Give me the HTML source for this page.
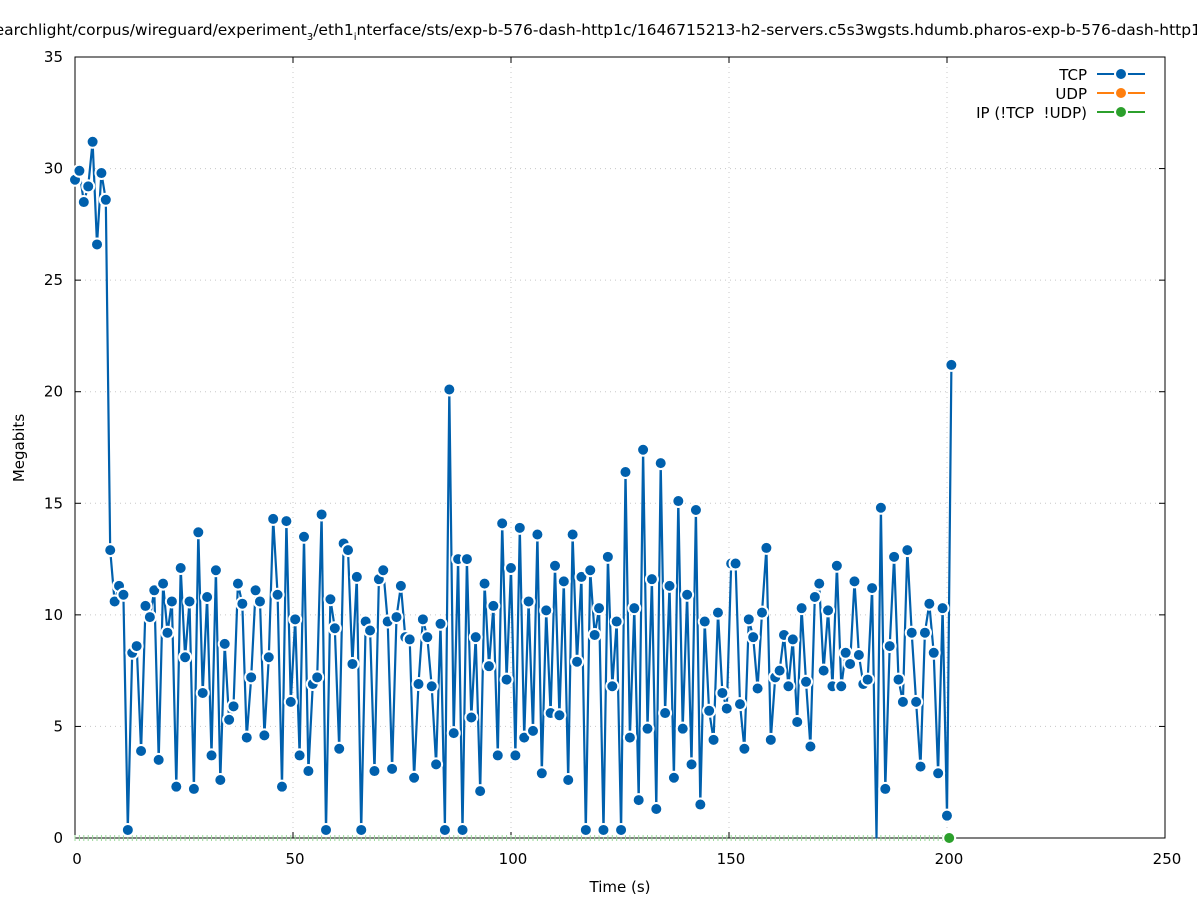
<!DOCTYPE html>
<html><head><meta charset="utf-8">
<style>
html,body{margin:0;padding:0;background:#fff;}
svg{display:block;font-family:"DejaVu Sans","Liberation Sans",sans-serif;}
</style></head>
<body>
<svg id="s" width="1197" height="900" xmlns="http://www.w3.org/2000/svg">
<defs><clipPath id="cp"><rect x="60" y="50" width="1110" height="788.5"/></clipPath></defs>
<rect width="1197" height="900" fill="#fff"/>
<g id="grid" stroke="#c8c8c8" stroke-width="1" stroke-dasharray="1,4"></g>
<g id="axes"></g>
<g id="udp"></g>
<g clip-path="url(#cp)">
<path id="line" fill="none" stroke="#0060ad" stroke-width="2.2" stroke-linejoin="round"/>
<g id="marks"></g>
</g>
<g id="top"></g>
<text x="598" y="35" font-size="15.5" text-anchor="middle">searchlight/corpus/wireguard/experiment<tspan font-size="10" dy="5">3</tspan><tspan dy="-5">/eth1</tspan><tspan font-size="10" dy="5">i</tspan><tspan dy="-5">nterface/sts/exp-b-576-dash-http1c/1646715213-h2-servers.c5s3wgsts.hdumb.pharos-exp-b-576-dash-http1c</tspan></text>
<text x="620" y="892" font-size="15" text-anchor="middle">Time (s)</text>
<text transform="translate(24,448) rotate(-90)" font-size="15" text-anchor="middle">Megabits</text>
<g font-size="15" text-anchor="end" xml:space="preserve">
<text x="1087" y="80">TCP</text>
<text x="1087" y="99">UDP</text>
<text x="1087" y="118" xml:space="preserve">IP (!TCP  !UDP)</text>
</g>
<g stroke-width="2">
<line x1="1097" y1="74" x2="1145" y2="74" stroke="#0060ad"/>
<line x1="1097" y1="93" x2="1145" y2="93" stroke="#ff7f0e"/>
<line x1="1097" y1="112" x2="1145" y2="112" stroke="#2ca02c"/>
</g>
<circle cx="1121" cy="74" r="6" fill="#0060ad" stroke="#fff" stroke-width="2"/>
<circle cx="1121" cy="93" r="6" fill="#ff7f0e" stroke="#fff" stroke-width="2"/>
<circle cx="1121" cy="112" r="6" fill="#2ca02c" stroke="#fff" stroke-width="2"/>
</svg>
<script>
var NS="http://www.w3.org/2000/svg";
function el(p,t,a,txt){var e=document.createElementNS(NS,t);for(var k in a)e.setAttribute(k,a[k]);if(txt!=null)e.textContent=txt;document.getElementById(p).appendChild(e);return e;}
var X0=75,X1=1165,Y0=838,Y1=57;
function px(t){return X0+(X1-X0)*t/250;}
function py(v){return Y0-(Y0-Y1)*v/35;}
for(var t=50;t<=200;t+=50)el("grid","line",{x1:px(t),x2:px(t),y1:Y1,y2:Y0});
for(var v=5;v<=30;v+=5)el("grid","line",{x1:X0,x2:X1,y1:py(v),y2:py(v)});
el("axes","rect",{x:X0,y:Y1,width:X1-X0,height:Y0-Y1,fill:"none",stroke:"#000","stroke-width":1});
for(var t=0;t<=250;t+=50){el("axes","line",{x1:px(t),x2:px(t),y1:Y0,y2:Y0-6,stroke:"#000"});el("axes","line",{x1:px(t),x2:px(t),y1:Y1,y2:Y1+6,stroke:"#000"});
el("axes","text",{x:px(t)+2,y:864,"font-size":15,"text-anchor":"middle"},String(t));}
for(var v=0;v<=35;v+=5){el("axes","line",{x1:X0,x2:X0+6,y1:py(v),y2:py(v),stroke:"#000"});el("axes","line",{x1:X1,x2:X1-6,y1:py(v),y2:py(v),stroke:"#000"});
el("axes","text",{x:63,y:py(v)+5,"font-size":15,"text-anchor":"end"},String(v));}
var d=[29.5,29.9,28.5,29.2,31.2,26.6,29.8,28.6,12.9,10.6,11.3,10.9,0.4,8.3,8.6,3.9,10.4,9.9,11.1,3.5,11.4,9.2,10.6,2.3,12.1,8.1,10.6,2.2,13.7,6.5,10.8,3.7,12.0,2.6,8.7,5.3,5.9,11.4,10.5,4.5,7.2,11.1,10.6,4.6,8.1,14.3,10.9,2.3,14.2,6.1,9.8,3.7,13.5,3.0,6.9,7.2,14.5,0.3,10.7,9.4,4.0,13.2,12.9,7.8,11.7,0.3,9.7,9.3,3.0,11.6,12.0,9.7,3.1,9.9,11.3,9.0,8.9,2.7,6.9,9.8,9.0,6.8,3.3,9.6,0.5,20.1,4.7,12.5,0.3,12.5,5.4,9.0,2.1,11.4,7.7,10.4,3.7,14.1,7.1,12.1,3.7,13.9,4.5,10.6,4.8,13.6,2.9,10.2,5.6,12.2,5.5,11.5,2.6,13.6,7.9,11.7,0.3,12.0,9.1,10.3,0.3,12.6,6.8,9.7,0.3,16.4,4.5,10.3,1.7,17.4,4.9,11.6,1.3,16.8,5.6,11.3,2.7,15.1,4.9,10.9,3.3,14.7,1.5,9.7,5.7,4.4,10.1,6.5,5.8,12.3,12.3,6.0,4.0,9.8,9.0,6.7,10.1,13.0,4.4,7.2,7.5,9.1,6.8,8.9,5.2,10.3,7.0,4.1,10.8,11.4,7.5,10.2,6.8,12.2,6.8,8.3,7.8,11.5,8.2,6.9,7.1,11.2,0.0,14.8,2.2,8.6,12.6,7.1,6.1,12.9,9.2,6.1,3.2,9.2,10.5,8.3,2.9,10.3,1.0,21.2];
var n=d.length,span=201,pts=[];
for(var i=0;i<n;i++){pts.push([px(i*span/(n-1)),py(d[i])]);}
document.getElementById("line").setAttribute("d","M"+pts.map(function(p){return p[0].toFixed(1)+","+p[1].toFixed(1);}).join("L"));
for(var i=0;i<n;i++){el("udp","line",{x1:pts[i][0],x2:pts[i][0],y1:Y0-3,y2:Y0+3,stroke:"#9ad89a","stroke-width":1});}
for(var i=0;i<n;i++){ var y=pts[i][1]; if(d[i]<0.2) continue; if(d[i]<0.6) y=py(0.45)+2; el("marks","circle",{cx:pts[i][0],cy:y,r:6,fill:"#0060ad",stroke:"#fff","stroke-width":2});}
el("top","circle",{cx:px(200.5),cy:Y0,r:6,fill:"#2ca02c",stroke:"#fff","stroke-width":2});
</script>
</body></html>
